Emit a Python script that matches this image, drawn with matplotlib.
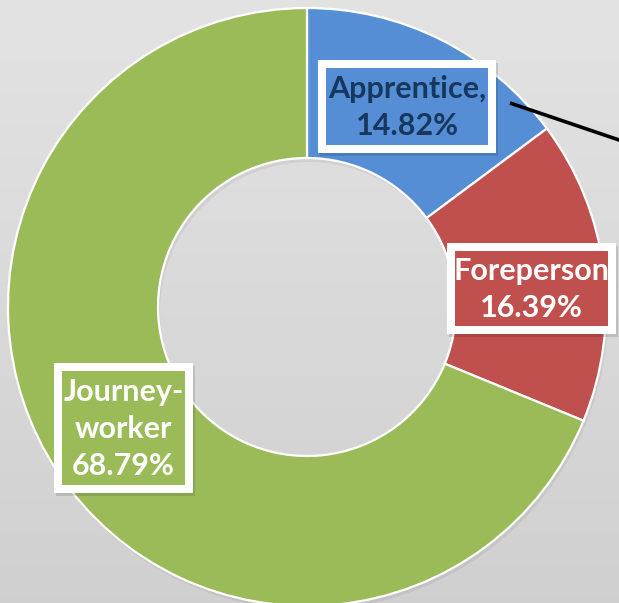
import numpy as np
import matplotlib
matplotlib.use("Agg")
import matplotlib.pyplot as plt
from matplotlib.patches import Rectangle

categories = ["Apprentice", "Foreperson", "Journey-worker"]
values = [14.82, 16.39, 68.79]
labels = ["Apprentice,\n14.82%", "Foreperson\n16.39%", "Journey-\nworker\n68.79%"]
colors = ["#558ed5", "#c0504d", "#9bbb59"]
text_colors = ["#17375e", "white", "white"]

W, H = 619, 603
fig = plt.figure(figsize=(W / 100, H / 100), dpi=100)
ax = fig.add_axes([0, 0, 1, 1])

# background gradient
grad = np.linspace(0.89, 0.815, 256).reshape(-1, 1)
ax.imshow(np.dstack([grad, grad, grad]), extent=[0, W, 0, H], aspect="auto",
          origin="upper", zorder=0)

cx, cy, R = 307, H - 307, 299
width = R - 149

# subtle shadow
ax.pie(values, radius=R, center=(cx + 2, cy - 4), startangle=90, counterclock=False,
       colors=["#000000"] * 3, wedgeprops=dict(width=width, alpha=0.06, linewidth=0),
       frame=True)
wedges, _ = ax.pie(values, radius=R, center=(cx, cy), startangle=90, counterclock=False,
                   colors=colors,
                   wedgeprops=dict(width=width, edgecolor="white", linewidth=1.6),
                   frame=True)
ax.set_xlim(0, W)
ax.set_ylim(0, H)
ax.set_aspect("equal")
ax.axis("off")

# leader line for Apprentice
ax.plot([510, 625], [H - 103, H - 142], color="black", lw=2.6, zorder=3,
        solid_capstyle="butt")

# label boxes: (left, top, right, bottom) in pixel coordinates from the top
boxes = [(318, 60, 496, 153), (447, 243, 616, 334), (54, 363, 193, 493)]
border = 8
for lab, (l, t, r, b), c, tc in zip(labels, boxes, colors, text_colors):
    # shadow
    ax.add_patch(Rectangle((l + 2, H - b - 3), r - l, b - t, facecolor="black",
                           alpha=0.12, edgecolor="none", zorder=4))
    ax.add_patch(Rectangle((l, H - b), r - l, b - t, facecolor="white",
                           edgecolor="none", zorder=4.5))
    ax.add_patch(Rectangle((l + border, H - b + border), r - l - 2 * border,
                           b - t - 2 * border, facecolor=c, edgecolor="none", zorder=4.6))
    ax.text((l + r) / 2, H - (t + b) / 2 - 1, lab, ha="center", va="center", fontsize=22,
            fontweight="bold", family="Lato", color=tc, linespacing=1.38, zorder=5)

fig.savefig("out.png", dpi=100)
